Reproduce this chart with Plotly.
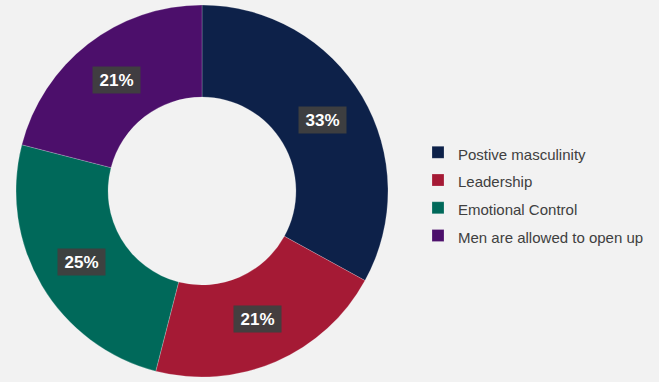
import numpy as np
import plotly.graph_objects as go

# Survey themes and their shares (percent)
labels = ["Postive masculinity", "Leadership", "Emotional Control", "Men are allowed to open up"]
values = [33, 21, 25, 21]
colors = ["#0d2149", "#a51a35", "#00695a", "#4c0f6b"]

W, H = 659, 382
cx, cy, R = 202, 191, 186   # donut centre and outer radius in pixels
hole = 0.505

fig = go.Figure(go.Pie(
    labels=[f"<span style='font-size:15px'>{t}</span>" for t in labels],
    values=values,
    sort=False,
    direction="clockwise",
    rotation=0,
    hole=hole,
    marker=dict(colors=colors, line=dict(color="rgba(255,255,255,0.35)", width=0.6)),
    textinfo="none",
    hoverinfo="label+percent",
    domain=dict(x=[(cx - R) / W, (cx + R) / W], y=[(H - cy - R) / H, (H - cy + R) / H]),
))

# Percentage labels placed at the middle of each ring segment
total = sum(values)
cum = np.cumsum([0] + values[:-1])
mid = (cum + np.array(values) / 2) / total * 2 * np.pi
r_mid = R * (1 + hole) / 2
for v, a in zip(values, mid):
    px = cx + r_mid * np.sin(a)
    py = cy - r_mid * np.cos(a)
    fig.add_annotation(
        x=px / W, y=1 - py / H, xref="paper", yref="paper",
        xanchor="center", yanchor="middle",
        text=f"<b>{round(v / total * 100)}%</b>",
        showarrow=False,
        font=dict(family="Liberation Sans, Arial, sans-serif", size=17, color="white"),
        bgcolor="rgba(64,64,64,0.96)",
        width=43, height=22, borderpad=2,
    )

fig.update_layout(
    width=W, height=H,
    margin=dict(l=0, r=0, t=0, b=0),
    paper_bgcolor="#f2f2f2",
    plot_bgcolor="#f2f2f2",
    showlegend=True,
    # legend rows keep a wide line pitch while the entry text stays small
    legend=dict(
        x=418 / W, y=1 - 194 / H, xanchor="left", yanchor="middle",
        font=dict(family="Liberation Sans, Arial, sans-serif", size=19, color="#404040"),
        bgcolor="rgba(0,0,0,0)",
    ),
)

fig.write_html("out.html")
